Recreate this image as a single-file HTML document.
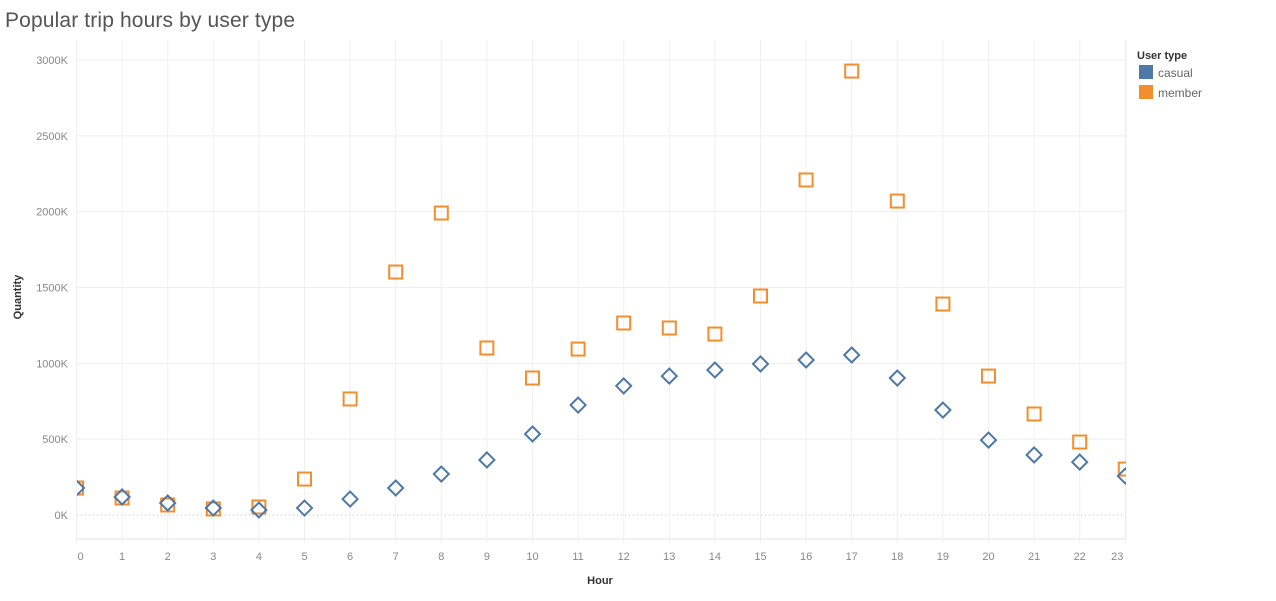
<!DOCTYPE html>
<html><head><meta charset="utf-8"><style>
body{margin:0;background:#fff;font-family:"Liberation Sans",sans-serif}
svg text{font-family:"Liberation Sans",sans-serif}
</style></head><body>
<svg id="c" width="1276" height="596">
<text x="5" y="27" font-size="21" textLength="290" fill="#555">Popular trip hours by user type</text>
<text transform="translate(21,297) rotate(-90)" text-anchor="middle" font-size="11" font-weight="bold" fill="#333">Quantity</text>
<text x="600" y="584" text-anchor="middle" font-size="11" font-weight="bold" fill="#333">Hour</text>
<g>
<text x="1137" y="59" font-size="11" font-weight="bold" fill="#333">User type</text>
<rect x="1139" y="65" width="14" height="14" fill="#4e79a7"/>
<text x="1158" y="77" font-size="12" fill="#666">casual</text>
<rect x="1139" y="85" width="14" height="14" fill="#f28e2b"/>
<text x="1158" y="97" font-size="12" fill="#666">member</text>
</g>
<g id="grid"></g><defs><clipPath id="cp"><rect x="77" y="40" width="1049" height="499"/></clipPath></defs>
<g id="marks" clip-path="url(#cp)"></g>
</svg>
<script>
const hours=[0,1,2,3,4,5,6,7,8,9,10,11,12,13,14,15,16,17,18,19,20,21,22,23];
const member=[178,112,66,40,53,237,765,1602,1991,1101,903,1094,1266,1233,1193,1444,2209,2927,2070,1391,916,666,481,303];
const casual=[178,119,79,46,33,46,105,178,270,363,534,725,851,916,956,996,1022,1055,903,692,494,396,349,257];
const yTicks=[0,500,1000,1500,2000,2500,3000];
const ns="http://www.w3.org/2000/svg";
const x=h=>76.5+h*45.6, y=v=>515-v*0.15167;
const g=document.getElementById('grid'), m=document.getElementById('marks');
function el(t,a,p){const e=document.createElementNS(ns,t);for(const k in a)e.setAttribute(k,a[k]);p.appendChild(e);return e;}
yTicks.forEach(v=>{
 if(v>0){const l=el('line',{x1:77,x2:1126,y1:y(v),y2:y(v),stroke:'#eee'},g);
 
 }
 else{const l=el('line',{x1:77,x2:1126,y1:y(v),y2:y(v),stroke:'#bbb','stroke-dasharray':'1,3'},g);
 
 }
 const t=el('text',{x:68,y:y(v)+4,'text-anchor':'end','font-size':11,fill:'#888'},g);t.textContent=v+'K';
 
 
});
hours.forEach(h=>{
 const l=el('line',{x1:x(h),x2:x(h),y1:40,y2:543,stroke:'#f0f0f0'},g);
 
 
 let tx=x(h); if(h==0)tx+=4; if(h==23)tx-=8;
 const t=el('text',{x:tx,y:560,'text-anchor':'middle','font-size':11,fill:'#888'},g);t.textContent=h;
 
 
});
const ax=el('line',{x1:77,x2:1126,y1:539,y2:539,stroke:'#e6e6e6'},g);


const rb=el('line',{x1:1126,x2:1126,y1:40,y2:539,stroke:'#eee'},g);


hours.forEach((h,i)=>{
 const r=el('rect',{x:x(h)-6.5,y:y(member[i])-6.5,width:13,height:13,fill:'none',stroke:'#f28e2b','stroke-width':2},m);
 
 
});
hours.forEach((h,i)=>{
 const cx=x(h),cy=y(casual[i]),d=7.5;
 const p=el('path',{d:`M${cx} ${cy-d}L${cx+d} ${cy}L${cx} ${cy+d}L${cx-d} ${cy}Z`,fill:'none',stroke:'#4e79a7','stroke-width':2},m);
 
 
});
</script>
</body></html>
